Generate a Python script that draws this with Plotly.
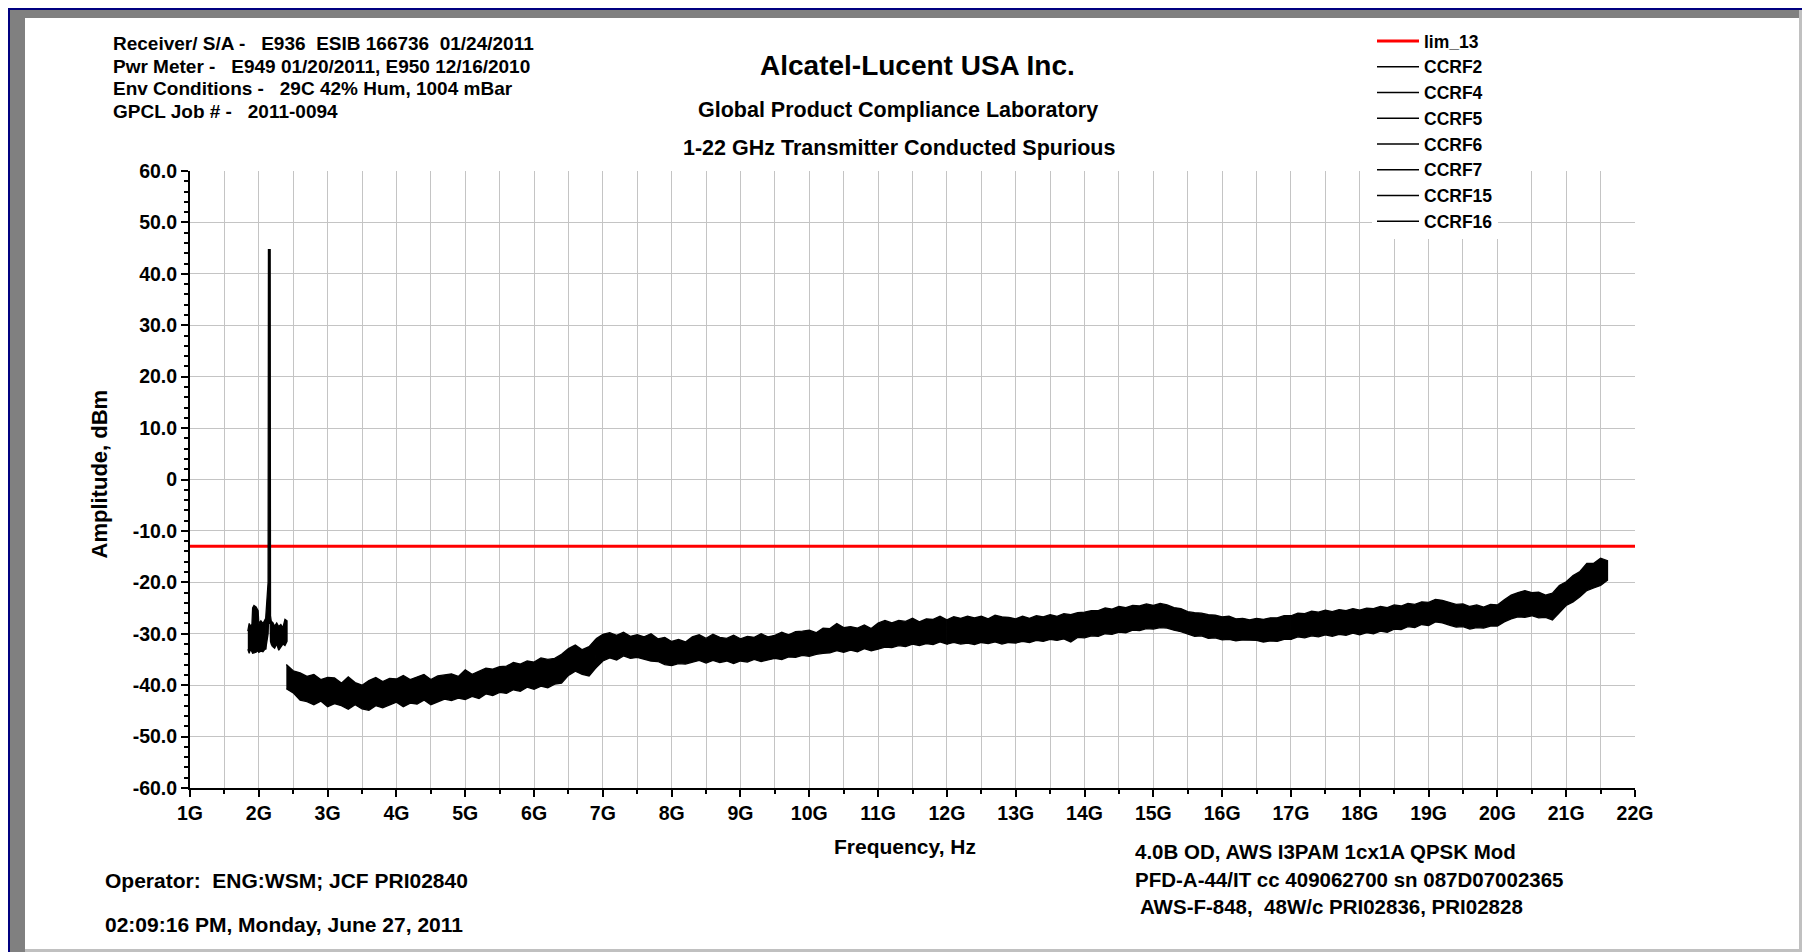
import plotly.graph_objects as go

# ---------------- data (GHz, dBm) ----------------
lim_freq = [1.0, 22.0]
lim_level = [-13.0, -13.0]

ccrf2_freq = [1.84, 1.86, 1.88, 1.90, 1.91, 1.93, 1.96, 1.99, 2.00, 2.03, 2.06, 2.09, 2.10]
ccrf2_upper = [-29.5, -28.0, -28.5, -28.2, -25.0, -24.5, -24.8, -25.5, -28.0, -27.5, -28.0, -27.3, -27.0]
ccrf2_lower = [-33.0, -33.8, -33.0, -33.5, -33.8, -33.7, -33.6, -33.3, -33.6, -33.4, -33.5, -33.0, -33.0]

ccrf4_freq = [2.10, 2.11, 2.12, 2.13, 2.135, 2.14, 2.165, 2.17, 2.18, 2.20]
ccrf4_upper = [-27.0, -25.0, -22.0, -21.0, -20.0, 44.7, 44.7, -26.5, -27.5, -27.8]
ccrf4_lower = [-33.0, -32.5, -31.0, -30.5, -30.0, -28.0, -28.0, -31.5, -32.0, -32.5]

ccrf5_freq = [2.20, 2.23, 2.26, 2.29, 2.32, 2.35, 2.38, 2.41]
ccrf5_upper = [-27.8, -28.5, -27.9, -28.6, -28.2, -28.8, -27.2, -27.5]
ccrf5_lower = [-32.5, -32.8, -32.0, -33.2, -32.6, -32.0, -32.3, -31.5]

ccrf6_freq = [2.4, 2.5, 2.6, 2.7, 2.8, 2.9, 3.0, 3.1, 3.2, 3.3, 3.4, 3.5, 3.6, 3.7, 3.8, 3.9,
              4.0, 4.1, 4.2, 4.3, 4.4, 4.5, 4.6, 4.7, 4.8, 4.9, 5.0, 5.1, 5.2, 5.3, 5.4, 5.5,
              5.6, 5.7, 5.8, 5.9, 6.0, 6.1, 6.2, 6.3, 6.4, 6.5, 6.6, 6.7, 6.8, 6.9]
ccrf6_upper = [-36.0, -37.2, -37.6, -38.3, -37.9, -38.9, -38.5, -38.6, -39.6, -38.4, -39.5, -40.0,
               -39.1, -38.5, -39.3, -38.7, -38.8, -38.1, -38.9, -38.4, -37.9, -38.9, -38.2, -38.0,
               -37.8, -38.3, -37.0, -37.9, -37.3, -36.7, -36.9, -36.4, -36.3, -35.6, -35.9, -35.3,
               -35.5, -34.7, -35.0, -34.8, -34.0, -32.9, -32.2, -33.1, -32.5, -31.0]
ccrf6_lower = [-40.7, -41.5, -42.9, -43.2, -43.8, -43.1, -44.2, -43.6, -44.0, -44.7, -43.8, -44.6,
               -44.9, -44.0, -44.4, -43.9, -43.3, -44.2, -43.5, -43.7, -42.9, -43.8, -43.2, -42.7,
               -43.0, -42.5, -42.8, -42.2, -42.6, -41.7, -42.0, -41.4, -41.6, -40.9, -41.2, -40.4,
               -40.8, -40.2, -40.5, -39.8, -39.6, -38.1, -37.3, -37.9, -38.2, -36.6]

ccrf7_freq = [6.9, 7.0, 7.1, 7.2, 7.3, 7.4, 7.5, 7.6, 7.7, 7.8, 7.9, 8.0, 8.1, 8.2, 8.3, 8.4,
              8.5, 8.6, 8.7, 8.8, 8.9, 9.0, 9.1, 9.2, 9.3, 9.4, 9.5, 9.6, 9.7, 9.8, 9.9, 10.0,
              10.1, 10.2, 10.3, 10.4, 10.5, 10.6, 10.7, 10.8, 10.9, 11.0, 11.1, 11.2, 11.3, 11.4,
              11.5, 11.6, 11.7, 11.8, 11.9, 12.0]
ccrf7_upper = [-31.0, -30.1, -29.8, -30.3, -29.7, -30.5, -30.2, -30.6, -30.0, -31.0, -30.7, -31.5,
               -31.1, -31.6, -30.6, -30.2, -30.9, -30.1, -30.7, -30.9, -30.3, -31.0, -30.5, -30.7,
               -30.0, -30.6, -30.3, -29.7, -30.2, -29.6, -29.5, -29.3, -29.8, -28.9, -29.0, -28.0,
               -28.8, -28.6, -28.9, -28.3, -29.0, -27.9, -27.4, -27.9, -27.4, -27.6, -27.0, -27.7,
               -27.1, -27.2, -26.6, -27.3]
ccrf7_lower = [-36.6, -35.3, -34.7, -35.1, -34.3, -34.8, -34.6, -34.9, -35.3, -35.4, -36.0, -36.2,
               -35.8, -35.9, -35.5, -35.2, -35.7, -35.2, -35.6, -35.3, -35.8, -35.3, -35.5, -35.0,
               -35.4, -35.1, -34.8, -35.0, -34.5, -34.6, -34.2, -34.4, -34.0, -33.8, -33.7, -33.3,
               -33.6, -33.2, -33.5, -32.9, -33.3, -33.0, -32.6, -32.7, -32.3, -32.5, -32.0, -32.3,
               -31.9, -32.1, -31.6, -32.0]

ccrf15_freq = [12.0, 12.1, 12.2, 12.3, 12.4, 12.5, 12.6, 12.7, 12.8, 12.9, 13.0, 13.1, 13.2, 13.3,
               13.4, 13.5, 13.6, 13.7, 13.8, 13.9, 14.0, 14.1, 14.2, 14.3, 14.4, 14.5, 14.6, 14.7,
               14.8, 14.9, 15.0, 15.1, 15.2, 15.3, 15.4, 15.5, 15.6, 15.7, 15.8, 15.9, 16.0, 16.1,
               16.2, 16.3, 16.4, 16.5, 16.6, 16.7, 16.8, 16.9, 17.0]
ccrf15_upper = [-27.3, -26.7, -27.0, -26.6, -26.9, -26.6, -27.1, -26.4, -26.7, -26.8, -27.1, -26.6,
                -27.0, -26.5, -26.7, -26.3, -26.6, -26.1, -26.3, -25.9, -25.8, -25.5, -25.5, -25.0,
                -25.2, -24.7, -24.9, -24.5, -24.6, -24.2, -24.5, -24.1, -24.4, -24.9, -25.1, -25.7,
                -25.9, -26.0, -26.3, -26.4, -26.7, -26.6, -27.1, -27.0, -27.3, -27.0, -27.2, -26.9,
                -26.9, -26.5, -26.5]
ccrf15_lower = [-32.0, -31.7, -32.0, -31.8, -32.1, -31.7, -31.9, -31.6, -32.0, -31.7, -31.8, -31.5,
                -31.7, -31.3, -31.5, -31.1, -31.3, -31.0, -31.6, -30.7, -30.8, -30.4, -30.5, -30.0,
                -30.1, -29.7, -29.8, -29.3, -29.4, -29.0, -29.1, -28.8, -28.9, -29.3, -29.6, -30.0,
                -30.5, -30.4, -30.9, -30.8, -31.2, -31.1, -31.4, -31.2, -31.3, -31.3, -31.6, -31.4,
                -31.5, -31.1, -31.1]

ccrf16_freq = [17.0, 17.1, 17.2, 17.3, 17.4, 17.5, 17.6, 17.7, 17.8, 17.9, 18.0, 18.1, 18.2, 18.3,
               18.4, 18.5, 18.6, 18.7, 18.8, 18.9, 19.0, 19.1, 19.2, 19.3, 19.4, 19.5, 19.6, 19.7,
               19.8, 19.9, 20.0, 20.1, 20.2, 20.3, 20.4, 20.5, 20.6, 20.7, 20.8, 20.9, 21.0, 21.1,
               21.2, 21.3, 21.4, 21.5, 21.6]
ccrf16_upper = [-26.5, -26.0, -26.1, -25.6, -25.8, -25.4, -25.7, -25.3, -25.5, -25.1, -25.4, -25.0,
                -25.1, -24.7, -24.9, -24.4, -24.6, -24.1, -24.3, -23.8, -23.9, -23.3, -23.5, -23.9,
                -24.3, -24.2, -24.7, -24.4, -24.8, -24.3, -24.4, -23.4, -22.5, -22.0, -21.6, -22.0,
                -21.9, -22.5, -22.1, -20.6, -19.9, -18.7, -17.9, -16.3, -16.3, -15.3, -15.8]
ccrf16_lower = [-31.1, -30.6, -30.8, -30.4, -30.6, -30.2, -30.5, -30.1, -30.3, -29.9, -30.2, -29.8,
                -30.0, -29.5, -29.7, -29.1, -29.2, -28.6, -28.8, -28.2, -28.4, -27.7, -27.9, -28.3,
                -28.7, -28.6, -29.1, -28.8, -28.9, -28.5, -28.5, -27.7, -27.1, -26.7, -26.8, -26.5,
                -26.9, -26.8, -27.3, -25.9, -24.5, -23.8, -22.8, -21.6, -21.1, -20.6, -19.6]

freq_ticks = list(range(1, 23))
freq_tick_labels = [f"{v}G" for v in freq_ticks]
amp_ticks = [60, 50, 40, 30, 20, 10, 0, -10, -20, -30, -40, -50, -60]
amp_tick_labels = ["60.0", "50.0", "40.0", "30.0", "20.0", "10.0", "0",
                   "-10.0", "-20.0", "-30.0", "-40.0", "-50.0", "-60.0"]

sweeps = [
    ("CCRF2", ccrf2_freq, ccrf2_upper, ccrf2_lower),
    ("CCRF4", ccrf4_freq, ccrf4_upper, ccrf4_lower),
    ("CCRF5", ccrf5_freq, ccrf5_upper, ccrf5_lower),
    ("CCRF6", ccrf6_freq, ccrf6_upper, ccrf6_lower),
    ("CCRF7", ccrf7_freq, ccrf7_upper, ccrf7_lower),
    ("CCRF15", ccrf15_freq, ccrf15_upper, ccrf15_lower),
    ("CCRF16", ccrf16_freq, ccrf16_upper, ccrf16_lower),
]

# ---------------- page geometry ----------------
W, H = 1802, 952
L, R, T, B = 190, 1635, 171, 788
FONT = "Liberation Sans, Arial, Helvetica, sans-serif"


def px(x):
    return (x - L) / (R - L)


def py(y):
    return (B - y) / (B - T)


fig = go.Figure()

# limit line
fig.add_trace(go.Scatter(x=lim_freq, y=lim_level, mode="lines", name="lim_13",
                         line=dict(color="#ff0000", width=3), hoverinfo="skip"))

# each sweep drawn as its min/max envelope band
for name, f, up, lo in sweeps:
    fig.add_trace(go.Scatter(
        x=f + f[::-1], y=up + lo[::-1], mode="lines", fill="toself",
        fillcolor="black", line=dict(color="black", width=1.3),
        name=name, showlegend=False, hoverinfo="skip"))

# legend entries for the sweeps (line glyph only)
for name, *_ in sweeps:
    fig.add_trace(go.Scatter(x=[None], y=[None], mode="lines", name=name,
                             line=dict(color="black", width=1.5)))

tick_font = dict(family=FONT, size=19.5, color="black", weight="bold")
GRID = "#c4c4c4"

fig.update_layout(
    width=W, height=H,
    margin=dict(l=L, r=W - R, t=T, b=H - B, autoexpand=False),
    paper_bgcolor="white", plot_bgcolor="white",
    font=dict(family=FONT, color="black"),
    xaxis=dict(
        range=[1, 22], tickmode="array", tickvals=freq_ticks, ticktext=freq_tick_labels,
        ticks="outside", ticklen=7, tickwidth=1.5, tickcolor="black",
        showline=True, linecolor="black", linewidth=2,
        showgrid=True, gridcolor=GRID, gridwidth=1.2, zeroline=False,
        tickfont=tick_font,
        minor=dict(tickmode="linear", tick0=1, dtick=0.5, ticks="outside", ticklen=4,
                   tickwidth=1.5, tickcolor="black", showgrid=True, gridcolor=GRID, gridwidth=1.2),
    ),
    yaxis=dict(
        range=[-60, 60], tickmode="array", tickvals=amp_ticks, ticktext=amp_tick_labels,
        ticks="outside", ticklen=7, tickwidth=1.5, tickcolor="black",
        showline=True, linecolor="black", linewidth=2,
        showgrid=True, gridcolor=GRID, gridwidth=1.2, zeroline=False,
        tickfont=tick_font,
        minor=dict(tickmode="linear", tick0=0, dtick=2, ticks="outside", ticklen=4,
                   tickwidth=1.5, tickcolor="black", showgrid=False),
    ),
    # inner halves of the crossing tick marks
    xaxis2=dict(
        overlaying="x", anchor="y", side="bottom", range=[1, 22],
        tickmode="array", tickvals=freq_ticks, ticks="inside", ticklen=7, tickwidth=1.5,
        tickcolor="black", showticklabels=False, showgrid=False, showline=False, zeroline=False,
        minor=dict(tickmode="linear", tick0=1, dtick=0.5, ticks="inside", ticklen=4,
                   tickwidth=1.5, tickcolor="black", showgrid=False),
    ),
    yaxis2=dict(
        overlaying="y", anchor="x", side="left", range=[-60, 60],
        tickmode="array", tickvals=amp_ticks, ticks="inside", ticklen=7, tickwidth=1.5,
        tickcolor="black", showticklabels=False, showgrid=False, showline=False, zeroline=False,
        minor=dict(tickmode="linear", tick0=0, dtick=2, ticks="inside", ticklen=4,
                   tickwidth=1.5, tickcolor="black", showgrid=False),
    ),
    legend=dict(
        xref="container", yref="container", x=1372 / W, y=1 - 23 / H,
        xanchor="left", yanchor="top", bgcolor="white", borderwidth=0,
        font=dict(family=FONT, size=17.5, color="black", weight="bold"),
        itemwidth=42, tracegroupgap=0,
    ),
    showlegend=True,
)


def note(text, x, y, size, anchor="left", angle=0):
    fig.add_annotation(
        text=text, x=px(x), y=py(y), xref="paper", yref="paper",
        xanchor=anchor, yanchor="middle", showarrow=False, textangle=angle,
        font=dict(family=FONT, size=size, color="black", weight="bold"))


header_lines = [
    "Receiver/ S/A -   E936  ESIB 166736  01/24/2011",
    "Pwr Meter -   E949 01/20/2011, E950 12/16/2010",
    "Env Conditions -   29C 42% Hum, 1004 mBar",
    "GPCL Job # -   2011-0094",
]
for i, line in enumerate(header_lines):
    note(line, 111, 43.7 + i * 22.6, 19)

note("Alcatel-Lucent USA Inc.", 917, 65.5, 28, anchor="center")
note("Global Product Compliance Laboratory", 898, 110, 21.5, anchor="center")
note("1-22 GHz Transmitter Conducted Spurious", 899, 148, 21.5, anchor="center")

note("Amplitude, dBm", 99, 474.5, 22, anchor="center", angle=-90)
note("Frequency, Hz", 905, 846, 21, anchor="center")

dut_lines = [
    ("4.0B OD, AWS I3PAM 1cx1A QPSK Mod", 851.5),
    ("PFD-A-44/IT cc 409062700 sn 087D07002365", 879),
    (" AWS-F-848,  48W/c PRI02836, PRI02828", 906.5),
]
for line, y in dut_lines:
    note(line, 1133, y, 20.5)

note("Operator:  ENG:WSM; JCF PRI02840", 103, 880, 21)
note("02:09:16 PM, Monday, June 27, 2011", 103, 924, 21)

# window frame around the page
frame = [
    (8, 8, W, 10, "#000080"),
    (8, 8, 10, H, "#000080"),
    (10, 10, W - 3, 18, "#808080"),
    (10, 10, 25, H, "#808080"),
    (W - 3, 10, W, H, "#c0c0c0"),
    (25, H - 3, W, H, "#c0c0c0"),
]
for x0, y0, x1, y1, c in frame:
    fig.add_shape(type="rect", xref="paper", yref="paper",
                  x0=px(x0), x1=px(x1), y0=py(y0), y1=py(y1),
                  fillcolor=c, line=dict(width=0), layer="above")

fig.write_html("out.html")
